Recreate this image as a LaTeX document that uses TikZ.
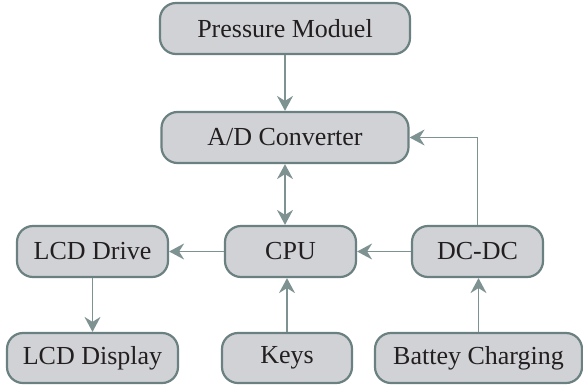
\documentclass[tikz,border=0pt]{standalone}
\usepackage{fontspec}
\setmainfont{Liberation Serif}
\usetikzlibrary{arrows.meta}
\definecolor{boxfill}{HTML}{D1D2D6}
\definecolor{boxline}{HTML}{6B8080}
\definecolor{arrc}{HTML}{7F9292}
\definecolor{txt}{HTML}{231F20}
\begin{document}
\begin{tikzpicture}[x=1pt,y=1pt,
  blk/.style={draw=boxline, line width=2.2pt, fill=boxfill, rounded corners=16pt,
    minimum height=51pt, inner sep=0pt, text=txt,
    font=\fontsize{26}{30}\selectfont},
  tip/.style={Stealth[length=15pt,width=16pt,inset=5pt]},
  arr/.style={draw=arrc, line width=1.6pt, -{Stealth[length=15pt,width=16pt,inset=5pt]}},
  darr/.style={draw=arrc, line width=1.6pt,
    {Stealth[length=15pt,width=16pt,inset=5pt]}-{Stealth[length=15pt,width=16pt,inset=5pt]}}]
\useasboundingbox (0,0) rectangle (583,-386);
\node[blk, minimum width=250pt] (pm) at (285,-28.5) {Pressure Moduel};
\node[blk, minimum width=247pt] (ad) at (285,-137.5) {A/D Converter};
\node[blk, minimum width=151pt] (lcdd) at (92.5,-251.5) {LCD Drive};
\node[blk, minimum width=131pt] (cpu) at (290.5,-251.5) {CPU};
\node[blk, minimum width=131pt] (dcdc) at (477.5,-251.5) {DC-DC};
\node[blk, minimum width=171pt, minimum height=50pt] (lcdp) at (92.5,-358) {LCD Display};
\node[blk, minimum width=130pt, minimum height=50pt] (keys) at (287,-358) {Keys};
\node[blk, minimum width=207pt, minimum height=50pt] (bat) at (478.5,-358) {Battey Charging};
\draw[arr] (pm.south) -- (pm.south |- ad.north);
\draw[darr] (ad.south) -- (ad.south |- cpu.north);
\draw[arr] (cpu.west) -- (lcdd.east);
\draw[arr] (lcdd.south) -- (lcdp.north);
\draw[arr] (keys.north) -- (keys.north |- cpu.south);
\draw[arr] (dcdc.west) -- (cpu.east);
\draw[arr] (bat.north) -- (bat.north |- dcdc.south);
\draw[arr] (dcdc.north) |- (ad.east);
\end{tikzpicture}
\end{document}
